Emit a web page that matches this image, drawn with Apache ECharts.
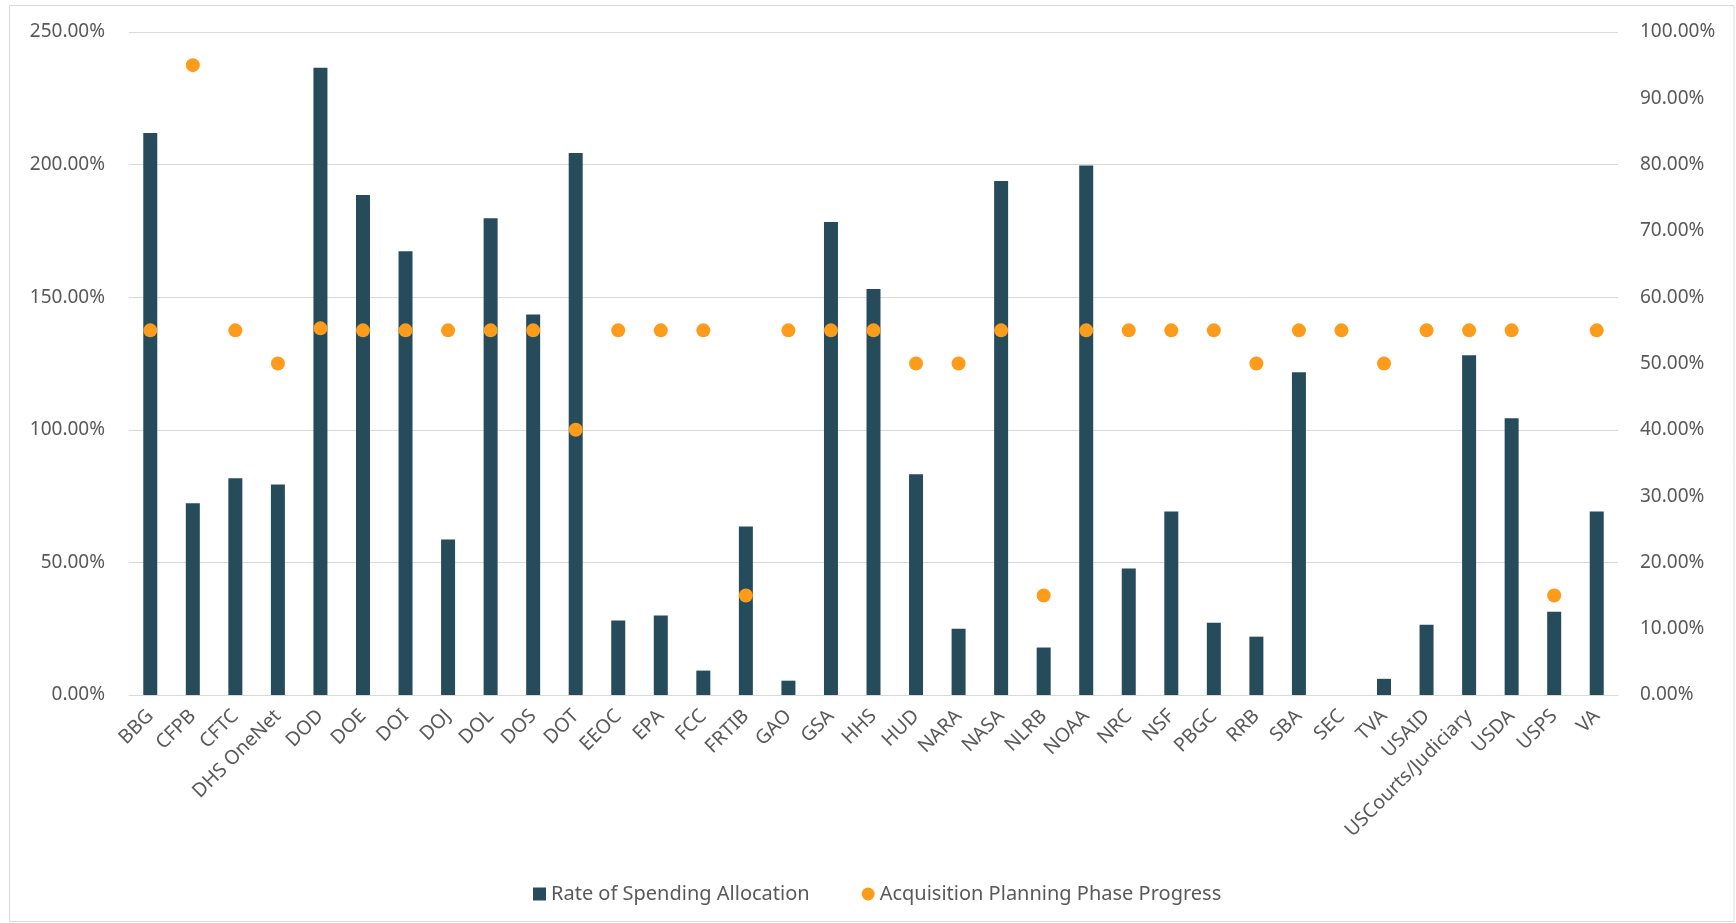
<!DOCTYPE html>
<html>
<head>
<meta charset="utf-8">
<script src="https://cdn.jsdelivr.net/npm/echarts@6/dist/echarts.min.js"></script>
<style>
html,body{margin:0;padding:0;background:#fff;}
#chart{width:1736px;height:923px;}
</style>
</head>
<body>
<div id="chart"></div>
<script>
const categories = ["BBG","CFPB","CFTC","DHS OneNet","DOD","DOE","DOI","DOJ","DOL","DOS","DOT","EEOC","EPA","FCC","FRTIB","GAO","GSA","HHS","HUD","NARA","NASA","NLRB","NOAA","NRC","NSF","PBGC","RRB","SBA","SEC","TVA","USAID","USCourts/Judiciary","USDA","USPS","VA"];
const spendingRate = [211.9,72.3,81.7,79.4,236.5,188.5,167.3,58.6,179.8,143.5,204.4,28.1,30.0,9.2,63.5,5.4,178.4,153.1,83.2,25.0,193.8,17.9,199.7,47.7,69.2,27.2,22.0,121.7,0,6.1,26.5,128.1,104.4,31.4,69.2];
const planningProgress = [55,95,55,50,55.3,55,55,55,55,55,40,55,55,55,15,55,55,55,50,50,55,15,55,55,55,55,50,55,55,50,55,55,55,15,55];
const leftTicks = {min:0,max:250,interval:50};
const rightTicks = {min:0,max:100,interval:10};

const textColor = '#595959';
const fontFamily = '"Noto Sans", sans-serif';
const chart = echarts.init(document.getElementById('chart'));
chart.setOption({
  animation:false,
  backgroundColor:'#fff',
  textStyle:{fontFamily:fontFamily},
  graphic:[{type:'rect',shape:{x:9.5,y:5.5,width:1724.5,height:916},style:{fill:'none',stroke:'#d9d9d9',lineWidth:1},silent:true}],
  grid:{left:129,right:118,top:32,bottom:228,containLabel:false},
  legend:{
    bottom:14,left:528,itemGap:52,itemWidth:13,itemHeight:13,
    textStyle:{color:textColor,fontSize:20,fontFamily:fontFamily},
    data:[{name:'Rate of Spending Allocation',icon:'rect'},{name:'Acquisition Planning Phase Progress',icon:'circle'}]
  },
  xAxis:{
    type:'category',data:categories,
    axisLine:{lineStyle:{color:'#d9d9d9',width:1}},
    axisTick:{show:false},
    axisLabel:{rotate:45,interval:0,color:textColor,fontSize:19.5,margin:18,fontFamily:fontFamily}
  },
  yAxis:[
    {type:'value',min:leftTicks.min,max:leftTicks.max,interval:leftTicks.interval,
     axisLine:{show:false},axisTick:{show:false},
     splitLine:{lineStyle:{color:'#d9d9d9',width:1}},
     axisLabel:{color:textColor,fontSize:19,margin:24,formatter:v=>v.toFixed(2)+'%',fontFamily:fontFamily}},
    {type:'value',min:rightTicks.min,max:rightTicks.max,interval:rightTicks.interval,
     axisLine:{show:false},axisTick:{show:false},splitLine:{show:false},
     axisLabel:{color:textColor,fontSize:19,margin:22,formatter:v=>v.toFixed(2)+'%',fontFamily:fontFamily}}
  ],
  series:[
    {name:'Rate of Spending Allocation',type:'bar',data:spendingRate,barWidth:14,yAxisIndex:0,
     itemStyle:{color:'#264c5c'}},
    {name:'Acquisition Planning Phase Progress',type:'scatter',data:planningProgress,yAxisIndex:1,
     symbol:'circle',symbolSize:14,itemStyle:{color:'#fd9b1b',opacity:1}}
  ]
});
</script>
</body>
</html>
